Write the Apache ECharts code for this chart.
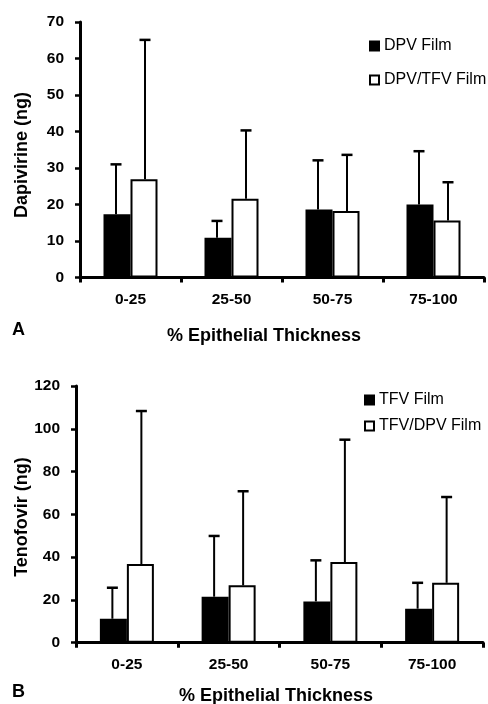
<!DOCTYPE html>
<html>
<head>
<meta charset="utf-8">
<script src="https://cdn.jsdelivr.net/npm/echarts@6/dist/echarts.min.js"></script>
<style>html,body{margin:0;padding:0;background:#fff}#c{width:488px;height:704px}</style>
</head>
<body>
<div id="c"></div>
<script>
const categories = ['0-25', '25-50', '50-75', '75-100'];

// Panel A: Dapivirine (ng)
const dpvFilm = [17.3, 10.9, 18.6, 20.0];
const dpvFilmErr = [31.0, 15.5, 32.1, 34.6];
const dpvTfvFilm = [26.9, 21.6, 18.2, 15.6];
const dpvTfvFilmErr = [65.1, 40.3, 33.6, 26.1];

// Panel B: Tenofovir (ng)
const tfvFilm = [11.2, 21.5, 19.3, 15.9];
const tfvFilmErr = [25.7, 49.9, 38.5, 28.0];
const tfvDpvFilm = [36.8, 26.8, 37.7, 28.0];
const tfvDpvFilmErr = [108.3, 70.8, 94.9, 68.1];

const yTicksA = [0, 10, 20, 30, 40, 50, 60, 70];
const yTicksB = [0, 20, 40, 60, 80, 100, 120];

const FONT = 'Liberation Sans, Arial, sans-serif';
const BAR_W = 27;

function errSeries(name, vals, errs, xi, yi, side) {
  return {
    type: 'custom',
    name: name + ' err',
    xAxisIndex: xi, yAxisIndex: yi,
    silent: true,
    z: 1,
    data: vals.map((v, i) => [i, v, errs[i]]),
    renderItem: function (params, api) {
      const base = api.coord([api.value(0), api.value(1)]);
      const top = api.coord([api.value(0), api.value(2)]);
      const x = base[0] + side * (BAR_W + 2) / 2;
      const cap = 5.5;
      return {
        type: 'group',
        children: [
          { type: 'line', shape: { x1: x, y1: base[1], x2: x, y2: top[1] }, style: { stroke: '#000', lineWidth: 2 } },
          { type: 'line', shape: { x1: x - cap, y1: top[1], x2: x + cap, y2: top[1] }, style: { stroke: '#000', lineWidth: 2.5 } }
        ]
      };
    }
  };
}

function barSeries(name, vals, fill, xi, yi) {
  return {
    type: 'bar', name: name, data: vals,
    xAxisIndex: xi, yAxisIndex: yi,
    barWidth: BAR_W, barGap: '0%',
    z: 2,
    itemStyle: { color: fill, borderColor: '#000', borderWidth: 2 },
    emphasis: { disabled: true }
  };
}

function xAxis(gi) {
  return {
    type: 'category', data: categories, gridIndex: gi,
    axisLine: { lineStyle: { color: '#000', width: 3 } },
    axisTick: { show: true, length: 5, lineStyle: { color: '#000', width: 3 }, alignWithLabel: false },
    axisLabel: { color: '#000', fontFamily: FONT, fontWeight: 'bold', fontSize: 15.5, margin: 14 }
  };
}
function yAxis(gi, ticks) {
  return {
    type: 'value', gridIndex: gi,
    min: ticks[0], max: ticks[ticks.length - 1], interval: ticks[1] - ticks[0],
    splitLine: { show: false },
    axisLine: { show: true, lineStyle: { color: '#000', width: 3 } },
    axisTick: { show: true, length: 5, lineStyle: { color: '#000', width: 2.5 } },
    axisLabel: { color: '#000', fontFamily: FONT, fontWeight: 'bold', fontSize: 15.5, margin: 16 }
  };
}

const legendText = { color: '#000', fontFamily: FONT, fontSize: 16 };

const chart = echarts.init(document.getElementById('c'), null, { renderer: 'canvas' });
chart.setOption({
  animation: false,
  backgroundColor: '#fff',
  grid: [
    { left: 80, right: 4, top: 22, height: 255.5 },
    { left: 76, right: 5, top: 386, height: 256.7 }
  ],
  xAxis: [xAxis(0), xAxis(1)],
  yAxis: [yAxis(0, yTicksA), yAxis(1, yTicksB)],
  legend: [
    {
      data: ['DPV Film', 'DPV/TFV Film'], orient: 'vertical', left: 364, top: 33,
      icon: 'rect', itemWidth: 9, itemHeight: 9, itemGap: 18, selectedMode: false,
      textStyle: legendText
    },
    {
      data: ['TFV Film', 'TFV/DPV Film'], orient: 'vertical', left: 359, top: 387,
      icon: 'rect', itemWidth: 9, itemHeight: 9, itemGap: 10, selectedMode: false,
      textStyle: legendText
    }
  ],
  graphic: [
    { type: 'text', left: 12, top: 321, style: { text: 'A', font: 'bold 18px ' + FONT, fill: '#000' } },
    { type: 'text', x: 264, y: 336, style: { text: '% Epithelial Thickness', font: 'bold 18px ' + FONT, fill: '#000', align: 'center', verticalAlign: 'middle' } },
    { type: 'text', x: 22.5, y: 155, rotation: Math.PI / 2, style: { text: 'Dapivirine (ng)', font: 'bold 18px ' + FONT, fill: '#000', align: 'center', verticalAlign: 'middle' } },
    { type: 'text', left: 12, top: 683, style: { text: 'B', font: 'bold 18px ' + FONT, fill: '#000' } },
    { type: 'text', x: 276, y: 696, style: { text: '% Epithelial Thickness', font: 'bold 18px ' + FONT, fill: '#000', align: 'center', verticalAlign: 'middle' } },
    { type: 'text', x: 22.5, y: 517, rotation: Math.PI / 2, style: { text: 'Tenofovir (ng)', font: 'bold 18px ' + FONT, fill: '#000', align: 'center', verticalAlign: 'middle' } }
  ],
  series: [
    barSeries('DPV Film', dpvFilm, '#000', 0, 0),
    barSeries('DPV/TFV Film', dpvTfvFilm, '#fff', 0, 0),
    errSeries('DPV Film', dpvFilm, dpvFilmErr, 0, 0, -1),
    errSeries('DPV/TFV Film', dpvTfvFilm, dpvTfvFilmErr, 0, 0, 1),
    barSeries('TFV Film', tfvFilm, '#000', 1, 1),
    barSeries('TFV/DPV Film', tfvDpvFilm, '#fff', 1, 1),
    errSeries('TFV Film', tfvFilm, tfvFilmErr, 1, 1, -1),
    errSeries('TFV/DPV Film', tfvDpvFilm, tfvDpvFilmErr, 1, 1, 1)
  ]
});
</script>
</body>
</html>
